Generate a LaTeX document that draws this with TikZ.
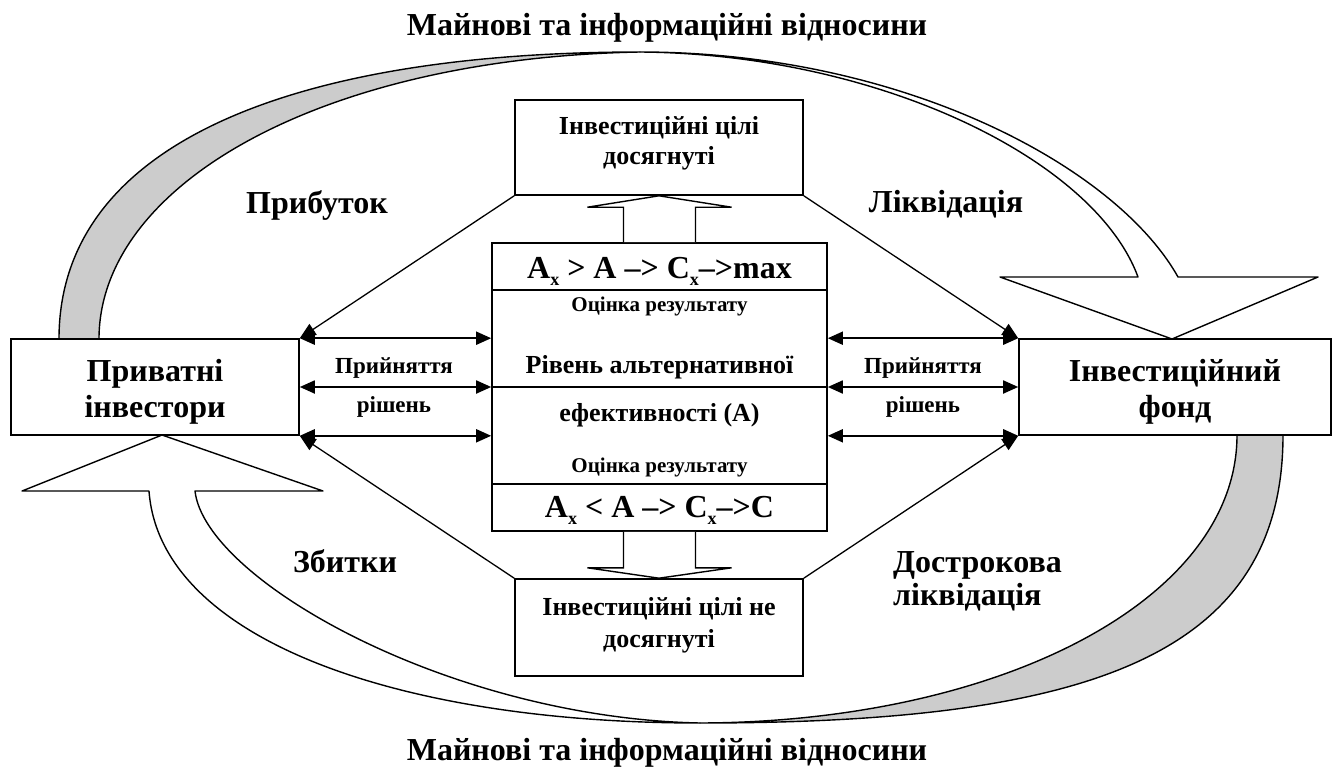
\documentclass[tikz,border=0pt]{standalone}
\usepackage{fontspec}
\setmainfont{Liberation Serif}
\usetikzlibrary{arrows.meta}
\newcommand\subx{\raisebox{-0.22em}{\fontsize{18}{18}\selectfont x}}
\begin{document}
\begin{tikzpicture}[x=1pt,y=-1pt,
  box/.style={draw,line width=1.6pt,fill=white,inner sep=0pt},
  bigtext/.style={font=\fontsize{32}{36}\selectfont\bfseries},
  midtext/.style={font=\fontsize{26}{30}\selectfont\bfseries},
  smalltext/.style={font=\fontsize{23}{26}\selectfont\bfseries},
  notetext/.style={font=\fontsize{21}{24}\selectfont\bfseries},
  txt/.style={anchor=base,inner sep=0pt},
  dbl/.style={line width=1.8pt,{Triangle[length=15pt,width=13pt]}-{Triangle[length=15pt,width=13pt]}},
  diag/.style={line width=1.3pt,-{Triangle[length=16pt,width=13pt]}},
  band/.style={line width=1.4pt,line join=round},
  hollow/.style={line width=1.4pt,fill=white,line join=miter}
]
\useasboundingbox (0,0) rectangle (1332,770);

% upper curved ribbon: shaded back side, then the open band with its head
\draw[band,fill=black!20] (59,339) .. controls (59,140) and (300,52) .. (640,52)
  .. controls (320,58) and (99,185) .. (99,339) -- cycle;
\draw[band,fill=white] (640,52) .. controls (900,52) and (1115,165) .. (1178,277)
  -- (1318,277) -- (1172,339) -- (1000,277) -- (1138,277)
  .. controls (1095,160) and (880,54) .. (640,52) -- cycle;

% lower curved ribbon
\draw[band,fill=black!20] (1283,435) .. controls (1283,660) and (1080,723) .. (700,723)
  .. controls (1000,722) and (1237,600) .. (1237,435) -- cycle;
\draw[band,fill=white] (700,723) .. controls (400,723) and (160,640) .. (149,491)
  -- (22,491) -- (162,435) -- (323,491) -- (195,491)
  .. controls (205,580) and (450,718) .. (700,723) -- cycle;

% boxes
\node[box,minimum width=288pt,minimum height=96pt] (L) at (155,387) {};
\node[box,minimum width=312pt,minimum height=96pt] (R) at (1175,387) {};
\node[box,minimum width=335pt,minimum height=288pt] (C) at (659.5,387) {};
\node[box,minimum width=288pt,minimum height=95pt] (T) at (659,147.5) {};
\node[box,minimum width=288pt,minimum height=97pt] (B) at (659,627.5) {};

% dividing lines of the central box
\draw[line width=1.6pt] ([yshift=-48pt]C.north west) -- ([yshift=-48pt]C.north east);
\draw[line width=1.6pt] (C.west) -- (C.east);
\draw[line width=1.6pt] ([yshift=48pt]C.south west) -- ([yshift=48pt]C.south east);

% hollow block arrows to the outcome boxes
\draw[hollow] ([xshift=-36pt]C.north) -- ++(0,-35) -- ++(-36,0) -- (T.south)
  -- ([xshift=72pt,yshift=35pt]C.north) -- ([xshift=36pt,yshift=35pt]C.north)
  -- ([xshift=36pt]C.north);
\draw[hollow] ([xshift=-36pt]C.south) -- ++(0,36) -- ++(-36,0) -- (B.north)
  -- ([xshift=72pt,yshift=-36pt]C.south) -- ([xshift=36pt,yshift=-36pt]C.south)
  -- ([xshift=36pt]C.south);

% diagonal arrows from the outcomes to the participants
\draw[diag] (T.south west) -- (L.north east);
\draw[diag] (T.south east) -- (R.north west);
\draw[diag] (B.north west) -- (L.south east);
\draw[diag] (B.north east) -- (R.south west);

% decision arrows
\draw[dbl] (L.north east) -- (L.north east -| C.west);
\draw[dbl] (L.east) -- (C.west);
\draw[dbl] (L.south east) -- (L.south east -| C.west);
\draw[dbl] (C.east |- R.north west) -- (R.north west);
\draw[dbl] (C.east) -- (R.west);
\draw[dbl] (C.east |- R.south west) -- (R.south west);

% texts
\node[bigtext,txt] (top) at (667,36) {Майнові та інформаційні відносини};
\node[bigtext,txt] (bottom) at (667,760) {Майнові та інформаційні відносини};
\node[bigtext,txt] (profit) at (317,213) {Прибуток};
\node[bigtext,txt] (liq) at (946,212) {Ліквідація};
\node[bigtext,txt] (loss) at (345,572) {Збитки};
\node[bigtext,txt,anchor=base west] (early1) at (893,572) {Дострокова};
\node[bigtext,txt,anchor=base west] (early2) at (893,605) {ліквідація};

\node[bigtext,txt] (l1) at (155,381) {Приватні};
\node[bigtext,txt] (l2) at (155,417) {інвестори};
\node[bigtext,txt] (r1) at (1175,381) {Інвестиційний};
\node[bigtext,txt] (r2) at (1175,417) {фонд};

\node[midtext,txt] (t1) at (659,135) {Інвестиційні цілі};
\node[midtext,txt] (t2) at (659,165) {досягнуті};
\node[midtext,txt] (b1) at (659,615) {Інвестиційні цілі не};
\node[midtext,txt] (b2) at (659,647) {досягнуті};

\node[bigtext,txt] (f1) at (659.5,278) {A\subx{} > A –> C\subx–>max};
\node[notetext,txt] (e1) at (659.5,311) {Оцінка результату};
\node[midtext,txt] (a1) at (659.5,373) {Рівень альтернативної};
\node[midtext,txt] (a2) at (659.5,421) {ефективності (A)};
\node[notetext,txt] (e2) at (659.5,472) {Оцінка результату};
\node[bigtext,txt] (f2) at (659.5,517) {A\subx{} < A –> C\subx–>C};

\node[smalltext,txt] (d1) at (394,373) {Прийняття};
\node[smalltext,txt] (d2) at (394,412) {рішень};
\node[smalltext,txt] (d3) at (923,373) {Прийняття};
\node[smalltext,txt] (d4) at (923,412) {рішень};
\end{tikzpicture}
\end{document}
